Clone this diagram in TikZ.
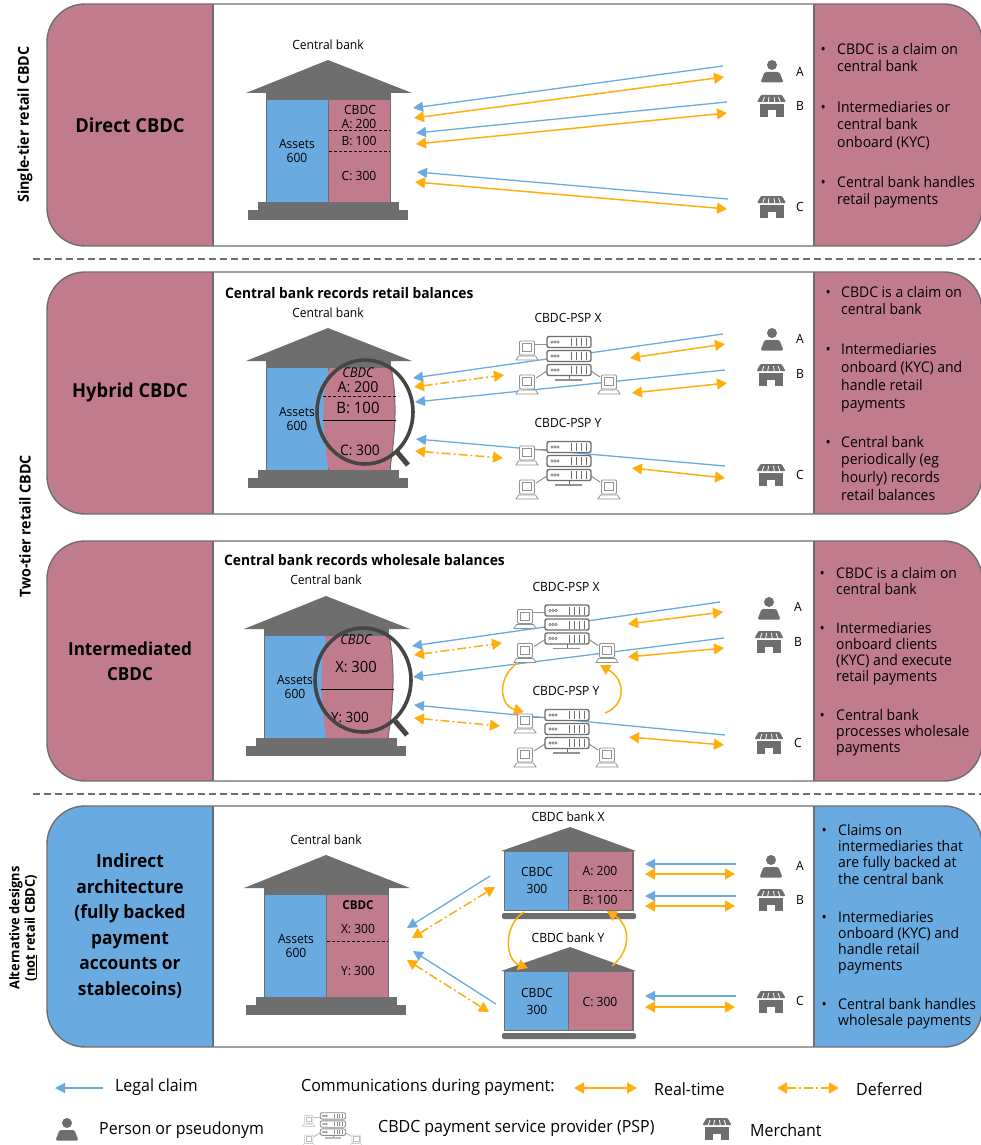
\documentclass[tikz,border=0pt]{standalone}
\usepackage{fontspec}
\setmainfont[FakeStretch=0.95]{Open Sans}
\usetikzlibrary{arrows.meta}
\definecolor{rosec}{HTML}{C07C8C}
\definecolor{bluec}{HTML}{69ABE0}
\definecolor{orangec}{HTML}{FFAE0D}
\definecolor{grayc}{HTML}{6E6E6E}
\definecolor{ringc}{HTML}{454545}
\colorlet{srvc}{grayc}
\colorlet{pcc}{grayc!75}
\def\srvlw{1.4pt}
\def\pclw{0.8pt}
\newcommand\fs[2]{\fontsize{#1}{#2}\selectfont}
\newcommand\conn[4]{\coordinate (#1a) at (#3);\coordinate (#1b) at (#4);\draw[#2] (#1a) -- (#1b);}
\newcommand\curv[6]{\coordinate (#1a) at (#3);\coordinate (#1b) at (#6);\draw[#2] (#1a) .. controls (#4) and (#5) .. (#1b);}
\newcommand\panel[3]{%
  \begin{scope}
    \clip[rounded corners=38pt] (47,#1) rectangle (982,#2);
    \fill[white] (47,#1) rectangle (982,#2);
    \fill[#3] (47,#1) rectangle (213,#2);
    \fill[#3] (814,#1) rectangle (982,#2);
  \end{scope}
  \draw[panelline,rounded corners=38pt] (47,#1) rectangle (982,#2);
  \draw[panelline] (213,#1) -- (213,#2);
  \draw[panelline] (814,#1) -- (814,#2);}
\newcommand\bul[6]{%
  \node[bultxt,anchor=north west,font=\fs{14.7}{#4}] (#1d) at (#2,#3) {\strut •};
  \node[bultxt,anchor=north west,font=\fs{14.7}{#4}] (#1t) at (#5,#3) {\strut #6};}
\tikzset{
  panelline/.style={draw=grayc,line width=1.4pt},
  sep/.style={draw=grayc,line width=2pt,dash pattern=on 7pt off 4pt},
  claim/.style={bluec,line width=1.3pt,-{Triangle[length=10pt,width=10pt]}},
  realtime/.style={orangec,line width=1.5pt,{Triangle[length=10pt,width=11pt]}-{Triangle[length=10pt,width=11pt]}},
  deferred/.style={orangec,line width=1.5pt,dash pattern=on 9pt off 3pt on 2pt off 3pt,{Triangle[length=10pt,width=11pt]}-{Triangle[length=10pt,width=11pt]}},
  swing/.style={orangec,line width=1.5pt,-{Triangle[length=10pt,width=11pt]}},
  small/.style={font=\fs{12.7}{14},inner sep=0pt,align=center},
  vals/.style={font=\fs{12.7}{14},inner sep=0pt,align=center},
  lens/.style={inner sep=0pt,align=center},
  title/.style={font=\fs{19.3}{25.5}\bfseries,inner sep=0pt,align=center},
  head/.style={font=\fs{14.5}{16}\bfseries,inner sep=0pt,anchor=west},
  side/.style={font=\fs{15}{17}\bfseries,inner sep=0pt,align=center,rotate=90},
  bultxt/.style={inner sep=0pt,align=left},
  legend/.style={font=\fs{16.8}{19},inner sep=0pt,anchor=west},
  ring/.style={draw=ringc,line width=3.6pt},
  bank/.pic={
    \fill[grayc] (-82,33) -- (0,0) -- (84,33) -- cycle;
    \fill[grayc] (-62,33) rectangle (63,142);
    \fill[bluec] (-61,40) rectangle (0,142);
    \fill[rosec] (1,40) rectangle (62,142);
    \fill[grayc] (-70,142) rectangle (71,150);
    \fill[grayc] (-80,150) rectangle (80,160);
  },
  minibank/.pic={
    \fill[grayc] (-69,24) -- (0,0) -- (66,24) -- cycle;
    \fill[grayc] (-66,24) rectangle (64,84);
    \fill[bluec] (-65,25) rectangle (-2,83);
    \fill[rosec] (-1,25) rectangle (62,83);
    \fill[grayc,rounded corners=2pt] (-68,86) rectangle (66,92);
  },
  person/.pic={
    \fill[grayc] (0,-7) circle (5);
    \fill[grayc,rounded corners=1.5pt] (-11.5,10.5) -- (-7.5,0) -- (7.5,0) -- (11.5,10.5) -- cycle;
  },
  merchant/.pic={
    \fill[grayc] (-12,-3) rectangle (12,11);
    \fill[white] (-4,4.5) rectangle (4,11);
    \fill[white] (-15,-4) rectangle (15,-2);
    \fill[grayc,rounded corners=1pt] (-10.5,-11) -- (10.5,-11) -- (14.5,-4) -- (-14.5,-4) -- cycle;
    \foreach \xa/\xb in {-7/-9,-2.5/-3.3,2.5/3.3,7/9}
      \draw[white,line width=.8pt] (\xa,-9) -- (\xb,-3.5);
  },
  computer/.pic={
    \draw[pcc,line width=\pclw,fill=white,rounded corners=1pt] (-7.5,-9) rectangle (7.5,5);
    \draw[pcc,line width=\pclw,fill=white] (-4.5,-6.5) rectangle (4.5,1.5);
    \draw[pcc,line width=\pclw,fill=white] (-8.5,6) -- (8.5,6) -- (11,10) -- (-11,10) -- cycle;
  },
  serverrow/.pic={
    \draw[srvc,line width=\srvlw,fill=white,rounded corners=2pt] (-22,-5.5) rectangle (22,5.5);
    \foreach \cx in {-17,-14,-11} \draw[srvc,line width=.5pt] (\cx,0) circle (1.2);
    \foreach \cx in {2,7,12,17} \draw[srvc,line width=1pt] (\cx,-4) -- (\cx,4);
  },
  psp/.pic={
    \draw[pcc,line width=1pt] (-34,-12) -- (-22,-12);
    \draw[pcc,line width=1pt] (-33,22) -- (-22,15);
    \draw[pcc,line width=1pt] (31,21) -- (22,15);
    \draw[srvc,line width=1pt] (0,18) -- (0,23);
    \draw[pcc,line width=1.6pt] (-14,24) -- (13,24);
    \pic[transform shape] at (0,-14) {serverrow};
    \pic[transform shape] at (0,0) {serverrow};
    \pic[transform shape] at (0,14) {serverrow};
    \pic[transform shape] at (-42,-6) {computer};
    \pic[transform shape] at (-42,28) {computer};
    \pic[transform shape] at (40,28) {computer};
  },
}
\begin{document}
\begin{tikzpicture}[x=1pt,y=-1pt]
\useasboundingbox (0,0) rectangle (981,1145);
\fill[white] (0,0) rectangle (981,1145);
% panels
\panel{4}{246}{rosec}
\panel{272}{514}{rosec}
\panel{541}{781}{rosec}
\panel{806}{1047}{bluec}
\coordinate (sepAa) at (33,259);\coordinate (sepAb) at (981,259);
\draw[sep] (sepAa) -- (sepAb);
\coordinate (sepBa) at (33,794);\coordinate (sepBb) at (981,794);
\draw[sep] (sepBa) -- (sepBb);
% side labels
\node[side] (sideA) at (25,124.5) {Single-tier retail CBDC};
\node[side] (sideB) at (25,526.5) {Two-tier retail CBDC};
\node[side,font=\fs{13.5}{15.5}\bfseries] (sideC) at (23,928) {Alternative designs\\(\underline{not} retail CBDC)};
% titles
\node[title] (tA) at (130,125) {Direct CBDC};
\node[title] (tB) at (130,392) {Hybrid CBDC};
\node[title,font=\fs{18}{25.5}\bfseries] (tC) at (130,661) {Intermediated\\CBDC};
\node[title,font=\fs{18.3}{25.5}\bfseries] (tD) at (130,926) {Indirect\\architecture\\(fully backed\\payment\\accounts or\\stablecoins)};
\node[head] (hB) at (225,293) {Central bank records retail balances};
\node[head] (hC) at (224,560) {Central bank records wholesale balances};
% PANEL 1
\pic (bankA) at (328,60) {bank};
\node[small] (cbA) at (328,45) {Central bank};
\node[small] (asA) at (297,151) {Assets\\600};
\node[small] (cdA) at (360,110) {CBDC};
\node[vals] (aA) at (359,124) {A: 200};
\node[vals] (bA) at (359,141) {B: 100};
\node[vals] (cA) at (359,176) {C: 300};
\coordinate (dA1a) at (329,130.5);\coordinate (dA1b) at (390,130.5);
\draw[densely dashed,line width=.8pt] (dA1a) -- (dA1b);
\coordinate (dA2a) at (329,151);\coordinate (dA2b) at (390,151);
\draw[densely dashed,line width=.8pt] (dA2a) -- (dA2b);
\conn{a1}{claim}{723,66}{413,108}
\conn{a2}{realtime}{414,118}{724,77}
\conn{a3}{claim}{727,102}{416,133}
\conn{a4}{realtime}{416,144}{727,113}
\conn{a5}{claim}{728,199}{417,172}
\conn{a6}{realtime}{415,182}{727,209}
\pic (pA) at (772,72) {person};
\pic (mAb) at (771.5,106) {merchant};
\pic (mAc) at (771.5,207) {merchant};
\node[small] (lAa) at (800,72) {A};
\node[small] (lAb) at (800,106) {B};
\node[small] (lAc) at (800,207) {C};
\bul{bA1}{820.5}{41.6}{17.7}{837}{CBDC is a claim on\\central bank}
\bul{bA2}{820.5}{99.7}{17.5}{837}{Intermediaries or\\central bank\\onboard (KYC)}
\bul{bA3}{820.5}{174.6}{17.7}{837}{Central bank handles\\retail payments}
% PANEL 2
\conn{b1}{claim}{723,334}{413,378}
\conn{b3}{claim}{725,370}{415,402}
\conn{b5}{claim}{725,466}{416,439}
\pic (bankB) at (328,328) {bank};
\node[small] (cbB) at (328,313) {Central bank};
\node[small] (asB) at (297,419.5) {Assets\\600};
\fill[rosec] (329,368) .. controls (322,395) and (322,425) .. (328,468) -- (390,468) .. controls (396,430) and (397,395) .. (391,368) -- cycle;
\draw[grayc,line width=1pt] (391,368) .. controls (397,395) and (396,430) .. (390,468);
\node[lens,font=\fs{13.5}{15}\itshape] (cdB) at (358,373) {CBDC};
\node[lens,font=\fs{15}{16}] (aB) at (358,387) {A: 200};
\node[lens,font=\fs{15.7}{16}] (bB) at (358,408) {B: 100};
\node[lens,font=\fs{14.5}{16}] (cB) at (360,450) {C: 300};
\coordinate (dB1a) at (323,396);\coordinate (dB1b) at (396,396);
\draw[densely dashed,line width=.9pt] (dB1a) -- (dB1b);
\coordinate (dB2a) at (323,420.5);\coordinate (dB2b) at (396,420.5);
\draw[line width=.9pt] (dB2a) -- (dB2b);
\coordinate (hB1) at (397,452);\coordinate (hB2) at (408,465);
\draw[ringc,line width=5pt] (hB1) -- (hB2);
\draw[ring] (365,412) ellipse [x radius=48,y radius=52];
\conn{b2}{deferred}{414,387}{504,375}
\conn{b4}{deferred}{415,451}{503,458}
\pic (pspBx) at (569,356) {psp};
\pic (pspBy) at (569,461) {psp};
\node[small] (pBx) at (568,318) {CBDC-PSP X};
\node[small] (pBy) at (568,423) {CBDC-PSP Y};
\conn{b6}{realtime}{630,358}{725,344}
\conn{b7}{realtime}{632,393}{727,383}
\conn{b8}{realtime}{632,468}{725,478}
\pic (pB) at (772,340) {person};
\pic (mBb) at (771,375) {merchant};
\pic (mBc) at (771,475) {merchant};
\node[small] (lBa) at (800,339) {A};
\node[small] (lBb) at (800,374) {B};
\node[small] (lBc) at (800,475) {C};
\bul{bB1}{825.5}{284.6}{17.7}{841}{CBDC is a claim on\\central bank}
\bul{bB2}{825.5}{341.4}{18}{841}{Intermediaries\\onboard (KYC) and\\handle retail\\payments}
\bul{bB3}{825.5}{434.6}{17.7}{841}{Central bank\\periodically (eg\\hourly) records\\retail balances}
% PANEL 3
\conn{c1}{claim}{720,602}{412,646}
\conn{c3}{claim}{724,638}{413,677}
\conn{c5}{claim}{725,735}{414,705}
\pic (bankC) at (326,596) {bank};
\node[small] (cbC) at (326,580) {Central bank};
\node[small] (asC) at (295,687) {Assets\\600};
\fill[rosec] (327,636) .. controls (320,663) and (320,693) .. (326,738) -- (388,738) .. controls (394,700) and (395,663) .. (389,636) -- cycle;
\draw[grayc,line width=1pt] (389,636) .. controls (395,663) and (394,700) .. (388,738);
\node[lens,font=\fs{13.5}{15}\itshape] (cdC) at (356,640) {CBDC};
\node[lens,font=\fs{15.5}{16}] (xC) at (356,667) {X: 300};
\node[lens,font=\fs{14.2}{16}] (yC) at (350,717) {Y: 300};
\coordinate (dCa) at (321,689);\coordinate (dCb) at (394,689);
\draw[line width=.9pt] (dCa) -- (dCb);
\coordinate (hC1) at (395,721);\coordinate (hC2) at (407,735);
\draw[ringc,line width=5pt] (hC1) -- (hC2);
\draw[ring] (363,680) ellipse [x radius=48,y radius=52];
\conn{c2}{deferred}{414,655}{502,643}
\conn{c4}{deferred}{414,718}{500,726}
\pic (pspCx) at (567,624.5) {psp};
\pic (pspCy) at (567,729) {psp};
\node[small] (pCx) at (566,587) {CBDC-PSP X};
\node[small] (pCy) at (566,691) {CBDC-PSP Y};
\conn{c6}{realtime}{628,624}{723,612}
\conn{c7}{realtime}{628,657}{724,648}
\conn{c8}{realtime}{629,737}{724,745}
\curv{c9}{swing}{518,663}{498,675}{498,705}{524,712}
\curv{c10}{swing}{605,713}{626,705}{626,680}{600,665}
\pic (pC) at (769,609) {person};
\pic (mCb) at (769,642) {merchant};
\pic (mCc) at (769,743) {merchant};
\node[small] (lCa) at (798,607) {A};
\node[small] (lCb) at (798,642) {B};
\node[small] (lCc) at (798,743) {C};
\bul{bC1}{819.5}{566.6}{16.3}{836}{CBDC is a claim on\\central bank}
\bul{bC2}{819.5}{621.8}{16}{836}{Intermediaries\\onboard clients\\(KYC) and execute\\retail payments}
\bul{bC3}{819.5}{708.8}{16}{836}{Central bank\\processes wholesale\\payments}
% PANEL 4
\pic (bankD) at (326,855) {bank};
\node[small] (cbD) at (326,840) {Central bank};
\node[small] (asD) at (296,945.5) {Assets\\600};
\node[small,font=\fs{12.2}{14}\bfseries] (cdD) at (358,905) {CBDC};
\node[vals] (xD) at (358,929) {X: 300};
\node[vals] (yD) at (358,971) {Y: 300};
\coordinate (dDa) at (327,941);\coordinate (dDb) at (388,941);
\draw[densely dashed,line width=.8pt] (dDa) -- (dDb);
\pic (bankX) at (570,827) {minibank};
\pic (bankY) at (570,947) {minibank};
\node[small] (lbX) at (568,817) {CBDC bank X};
\node[small] (lbY) at (568,938) {CBDC bank Y};
\node[vals] (cbdcX) at (537,880.5) {CBDC\\[2.5pt]300};
\node[vals] (cbdcY) at (537,1001.5) {CBDC\\[2.5pt]300};
\node[vals] (aD) at (600,871) {A: 200};
\node[vals] (bD) at (600,900) {B: 100};
\node[vals] (cD) at (600,1002) {C: 300};
\coordinate (dXa) at (569,890);\coordinate (dXb) at (632,890);
\draw[densely dashed,line width=.8pt] (dXa) -- (dXb);
\conn{d1}{claim}{490,876}{407,928}
\conn{d2}{deferred}{412,938}{495,887}
\conn{d3}{claim}{496,1004}{413,951}
\conn{d4}{deferred}{407,960}{489,1012}
\curv{d5}{swing}{524,912}{503,925}{505,960}{528,968}
\curv{d6}{swing}{612,966}{632,950}{630,925}{607,911}
\conn{d7}{claim}{736,864}{645,864}
\conn{d8}{realtime}{645,874}{735,874}
\conn{d9}{claim}{736,896}{645,896}
\conn{d10}{realtime}{645,906}{735,906}
\conn{d11}{claim}{736,996}{645,996}
\conn{d12}{realtime}{645,1007}{735,1007}
\pic (pD) at (771,867) {person};
\pic (mDb) at (771,900) {merchant};
\pic (mDc) at (771,1002) {merchant};
\node[small] (lDa) at (800,866) {A};
\node[small] (lDb) at (800,900) {B};
\node[small] (lDc) at (800,1001) {C};
\bul{bD1}{821.5}{823.6}{16.3}{838}{Claims on\\intermediaries that\\are fully backed at\\the central bank}
\bul{bD2}{821.5}{910.8}{16}{838}{Intermediaries\\onboard (KYC) and\\handle retail\\payments}
\bul{bD3}{821.5}{997.8}{16}{838}{Central bank handles\\wholesale payments}
% LEGEND
\conn{l1}{claim}{103,1088}{55,1088}
\node[legend] (lg1) at (115,1087) {Legal claim};
\node[legend] (lg2) at (301,1087) {Communications during payment:};
\conn{l2}{realtime}{574,1088}{637,1088}
\node[legend] (lg3) at (654,1089) {Real-time};
\conn{l3}{deferred}{777,1088}{839,1088}
\node[legend] (lg4) at (856,1089) {Deferred};
\pic (pL) at (67,1130) {person};
\node[legend] (lg5) at (99,1130) {Person or pseudonym};
\begin{scope}
\colorlet{srvc}{grayc!80}\colorlet{pcc}{grayc!45}\def\srvlw{0.9pt}\def\pclw{0.5pt}
\pic[scale=.58] (pspL) at (333,1124) {psp};
\end{scope}
\node[legend] (lg6) at (378,1128) {CBDC payment service provider (PSP)};
\pic (mL) at (717,1129) {merchant};
\node[legend] (lg7) at (750,1130) {Merchant};
\end{tikzpicture}
\end{document}
